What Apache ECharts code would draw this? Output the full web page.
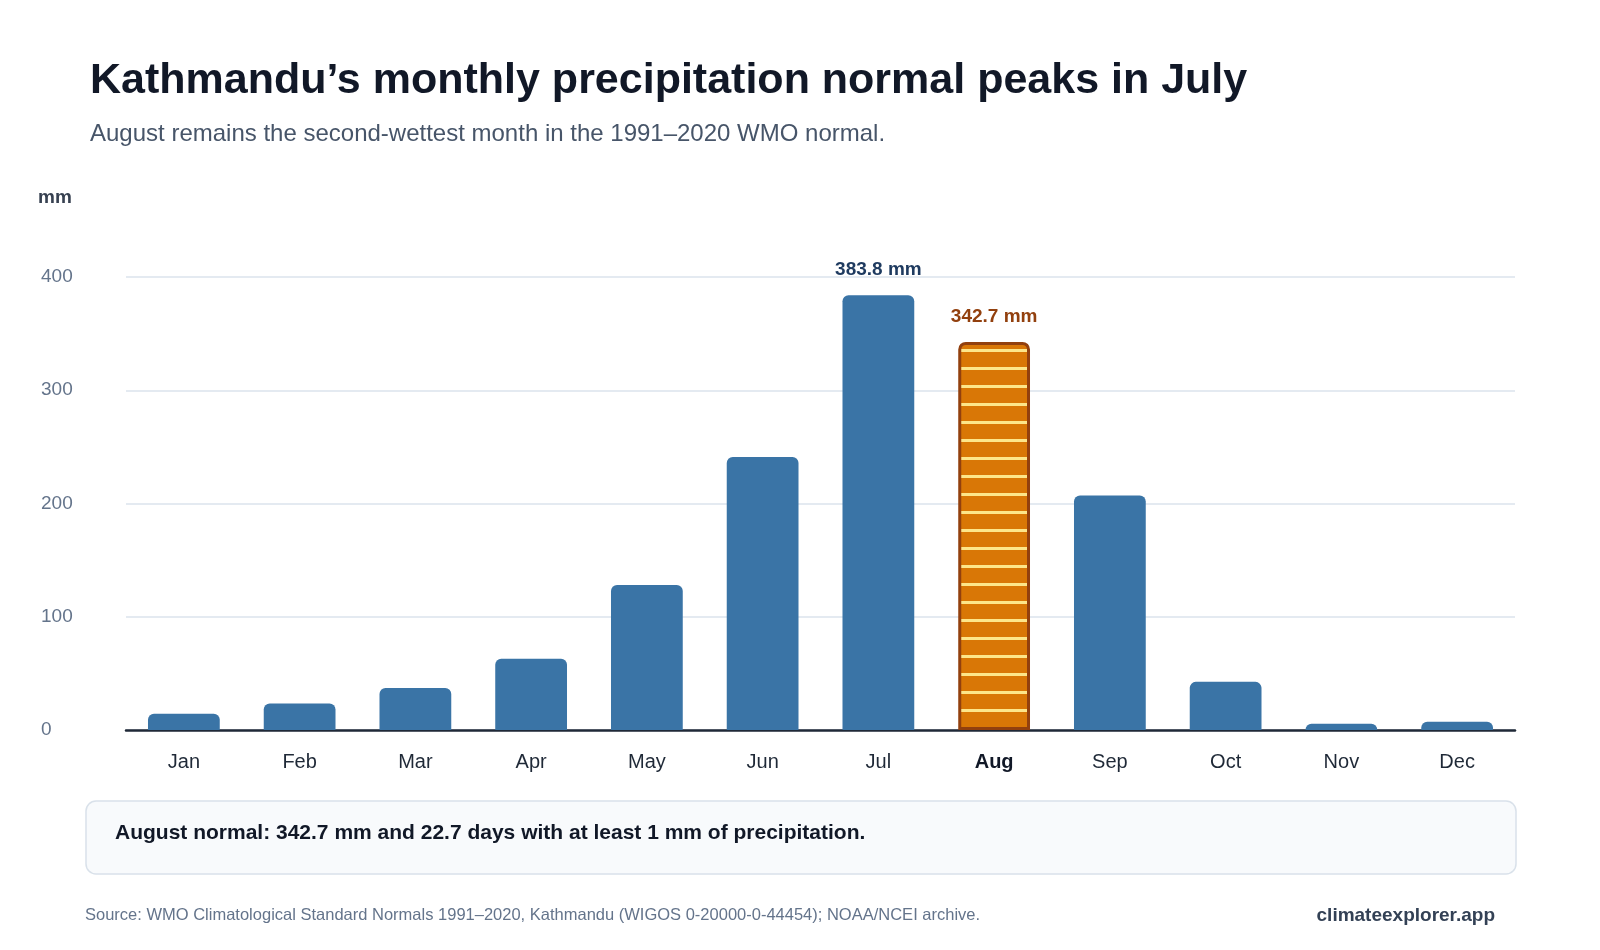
<!DOCTYPE html>
<html><head><meta charset="utf-8">
<script src="https://cdn.jsdelivr.net/npm/echarts@6/dist/echarts.min.js"></script>
<style>
body{margin:0;background:#fff;font-family:"Liberation Sans",Arial,sans-serif}
#chart{width:1600px;height:950px}
</style></head><body>
<div id="chart"></div>
<script>
var months = ["Jan","Feb","Mar","Apr","May","Jun","Jul","Aug","Sep","Oct","Nov","Dec"];
var precip = [14.4, 23.4, 37.0, 63.0, 128.0, 241.0, 383.8, 342.7, 207.0, 42.5, 5.5, 7.2];
var yTicks = [0, 100, 200, 300, 400];

var pat = document.createElement("canvas");
pat.width = 10;
pat.height = 18;
var pc = pat.getContext("2d");
pc.fillStyle = "#d97706"; pc.fillRect(0, 0, 10, 18);
pc.fillStyle = "#fde68a"; pc.fillRect(0, 7, 10, 3);

var chart = echarts.init(document.getElementById("chart"));
var data = precip.map(function (v, i) {
    if (months[i] === "Aug") {
        return { value: v, itemStyle: { color: { image: pat, repeat: "repeat" }, borderColor: "#92400e", borderWidth: 3 },
            label: { show: true, position: "top", distance: 16, formatter: "342.7 mm", color: "#92400e", fontSize: 19, fontWeight: "bold" } };
    }
    if (months[i] === "Jul") {
        return { value: v, label: { show: true, position: "top", distance: 16, formatter: "383.8 mm", color: "#1e3a5f", fontSize: 19, fontWeight: "bold" } };
    }
    return v;
});

chart.setOption({
    animation: false,
    title: [
        { text: "Kathmandu’s monthly precipitation normal peaks in July", left: 85, top: 55,
          textStyle: { fontSize: 43, fontWeight: "bold", color: "#111827" } },
        { text: "August remains the second-wettest month in the 1991–2020 WMO normal.", left: 85, top: 117,
          textStyle: { fontSize: 24, fontWeight: "normal", color: "#475569" } }
    ],
    graphic: [
        { type: "text", left: 38, top: 188, style: { text: "mm", font: "bold 19px Liberation Sans", fill: "#374151" } },
        { type: "rect", shape: { x: 86, y: 801, width: 1430, height: 73, r: 10 },
          style: { fill: "#f8fafc", stroke: "#d9e1ea", lineWidth: 1.5 } },
        { type: "text", left: 115, top: 823, style: { text: "August normal: 342.7 mm and 22.7 days with at least 1 mm of precipitation.", font: "bold 21px Liberation Sans", fill: "#111827" } },
        { type: "text", left: 85, top: 907, style: { text: "Source: WMO Climatological Standard Normals 1991–2020, Kathmandu (WIGOS 0-20000-0-44454); NOAA/NCEI archive.", font: "16.5px Liberation Sans", fill: "#64748b" } },
        { type: "text", right: 105, top: 906, style: { text: "climateexplorer.app", font: "bold 19px Liberation Sans", fill: "#334155" } }
    ],
    grid: { left: 126, right: 85, top: 277, bottom: 220 },
    xAxis: {
        type: "category", data: months,
        axisLine: { lineStyle: { color: "#1f2937", width: 2.5 } },
        axisTick: { show: false },
        axisLabel: { margin: 22, fontSize: 20, color: "#1f2937",
            formatter: function (v) { return v === "Aug" ? "{b|" + v + "}" : v; },
            rich: { b: { fontWeight: "bold", fontSize: 20, color: "#111827" } } }
    },
    yAxis: {
        type: "value", min: yTicks[0], max: yTicks[yTicks.length - 1], interval: 100,
        axisLabel: { fontSize: 19, color: "#64748b", margin: 85, align: "left" },
        splitLine: { lineStyle: { color: "#dbe3ec", width: 1.5 } }
    },
    series: [{
        type: "bar", data: data, barWidth: "62%",
        itemStyle: { color: "#3a74a6", borderRadius: [6, 6, 0, 0] }
    }]
});
</script>
</body></html>
